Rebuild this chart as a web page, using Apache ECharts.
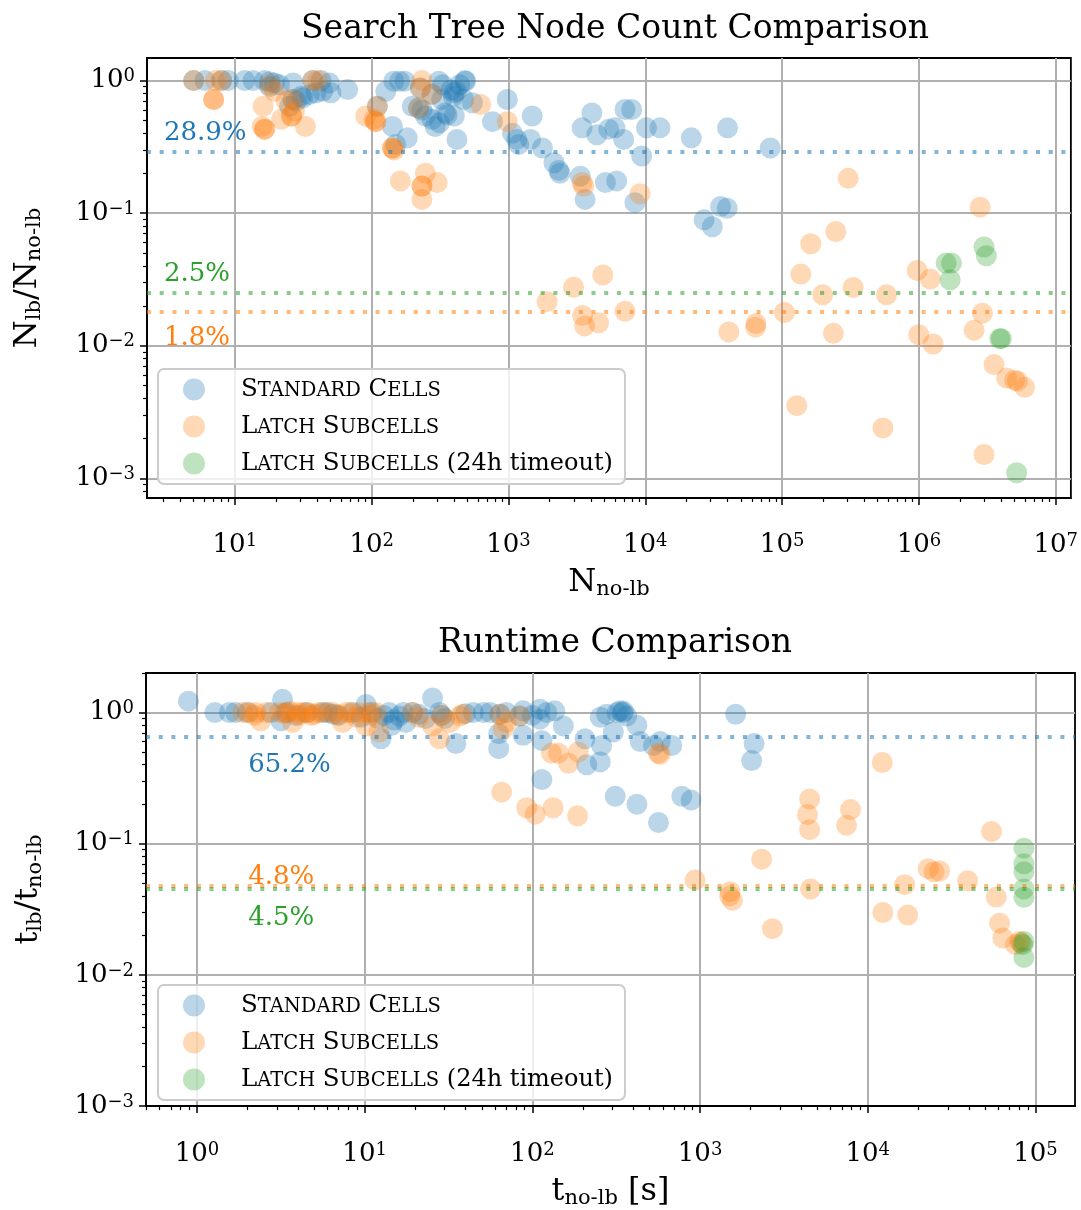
<!DOCTYPE html>
<html><head><meta charset="utf-8">
<script src="https://cdn.jsdelivr.net/npm/echarts@6/dist/echarts.min.js"></script>
<style>html,body{margin:0;padding:0;background:#fff}#c{width:1081px;height:1210px}</style>
</head><body><div id="c"></div>
<script>
const FONT = 'DejaVu Serif';
const seriesNames = ['Standard Cells', 'Latch Subcells', 'Latch Subcells (24h timeout)'];
const colors = ['#1f77b4', '#ff7f0e', '#2ca02c'];

// ---------- Search tree node count (top) ----------
const nodeStdX = [5,6.05,8,8.95,11.8,13.6,16.5,18,19.5,21.2,18,25.1,28.1,31.4,35.1,39.2,43.9,50.4,26.6,30.5,37.1,42.7,49,66.7,26.6,
  127,142,150,182,145,160,175,110,220,227,276,309,330,380,416,402,480,487,247,291,356,420,313,402,198,233,276,345,325,470,440,395,
  545,764,980,1070,1190,1150,1450,1490,1770,2150,2330,2380,3350,3630,5110,6180,8400,3450,4070,4420,5400,6000,6950,7100,7950,9400,
  10200,12800,21700,39900,82000,26900,30900,35500,39700];
const nodeStdY = [1,1,1,1,1,1,1,0.98,0.96,0.93,0.9,0.64,0.70,0.74,0.785,0.81,0.83,0.81,0.96,0.76,1,1,0.96,0.855,0.72,
  0.83,0.45,0.33,0.37,0.99,0.99,0.99,0.64,0.62,0.88,0.79,0.99,0.93,0.85,0.83,0.81,1,0.99,0.54,0.45,0.55,0.36,0.48,0.54,0.64,0.6,0.51,0.57,0.72,0.72,0.93,0.76,
  0.68,0.49,0.72,0.40,0.33,0.36,0.36,0.54,0.31,0.24,0.21,0.20,0.19,0.127,0.17,0.175,0.12,0.44,0.57,0.39,0.43,0.44,0.36,0.605,0.605,0.27,
  0.44,0.44,0.37,0.44,0.31,0.089,0.079,0.112,0.109];

const nodeLatchX = [5,7.2,8,7.0,7.0,18,19.5,16.1,16.5,16.5,15.8,21.9,23.7,26.6,26,26,27.3,32.8,37.1,40.5,
  90.5,110,107,107,104,142,142,146,233,227,276,220,233,233,247,162,301,233,627,980,3550,3450,9150,
  1915,2990,4890,3480,3600,4550,7110,40800,64400,64000,104000,137000,162000,247000,304000,198000,330000,580000,237000,
  970000,1210000,998000,1270000,2800000,2910000,2530000,3540000,4380000,5000000,5250000,5920000,128000,546000,2990000];
const nodeLatchY = [1,1,1,0.72,0.72,0.93,0.83,0.64,0.43,0.43,0.45,0.51,0.70,0.72,0.54,0.54,0.59,0.45,1,1,
  0.54,0.64,0.49,0.49,0.51,0.31,0.31,0.30,1,0.88,0.79,0.62,0.16,0.16,0.20,0.175,0.17,0.127,0.66,0.49,0.16,0.17,0.14,
  0.0215,0.0276,0.0342,0.0169,0.0141,0.0149,0.0182,0.0127,0.0147,0.0138,0.0178,0.0347,0.0588,0.0727,0.183,0.0242,0.0275,0.0242,0.0124,
  0.037,0.0318,0.0121,0.0103,0.111,0.0176,0.0131,0.0072,0.0057,0.0055,0.0054,0.00485,0.00353,0.0024,0.00151];

const nodeTimeoutX = [1580000,1730000,1690000,2990000,3110000,3900000,4000000,5180000];
const nodeTimeoutY = [0.042,0.042,0.0314,0.0555,0.0477,0.0113,0.0113,0.0011];

const nodeRefY = [0.289, 0.018, 0.025];
const nodeRefText = ['28.9%', '1.8%', '2.5%'];
const nodeRefTextX = [3.03, 3.03, 3.03];
const nodeRefTextSide = ['top', 'bottom', 'top'];

// ---------- Runtime (bottom) ----------
const timeStdX = [0.89,1.28,1.56,1.7,2.0,2.76,3.24,3.17,3.4,3.9,4.5,5.6,6.5,8.5,10.2,11,12.5,12,16.1,17.6,19.3,25.4,27.9,28.8,35,30,
  44.5,51,56,64,63,63,84,88,88,111,122,136,111,153,114,114,211,206,254,259,254,277,333,345,365,304,420,440,578,678,527,
  312,420,565,778,884,1630,2100,2030,320,350,40,70,100,6,7,9.5,14,21,23,17,13,15,14.5];
const timeStdY = [1.22,1,1,1,1,1,1.26,0.865,1,0.95,1,1,0.97,1,1.15,1,0.63,0.9,0.94,0.84,1,1.29,1,0.95,0.58,0.9,
  1,1,1,0.97,0.69,0.53,0.94,1.03,0.67,1.06,1,1.03,0.89,0.79,0.61,0.308,0.40,0.63,0.42,0.56,0.92,0.97,1.03,1,0.94,0.71,0.8,0.6,0.6,0.56,0.56,
  0.23,0.2,0.145,0.23,0.215,0.97,0.58,0.43,1,1.02,0.98,1,0.95,1,0.95,0.92,1,0.97,0.9,1,0.95,0.88,0.8];

const timeLatchX = [1.87,2.05,2.25,2.4,2.2,2.6,3.1,3.3,3.5,3.6,3.72,4.0,4.1,4.3,4.6,4.8,5.0,5.3,5.8,6.45,6.9,7.4,7.75,8.2,8.9,9.3,10.2,10.5,11,11.7,12.2,
  19.3,21,25.4,27.9,28.8,32.3,37,38.4,64,67,70,84,65.6,130,143,164,188,92.5,104,133,186,564,578,
  12200,4500,4370,4500,7890,7470,54700,2330,933,1510,1560,1500,2700,4560,16600,22900,26800,24800,39400,12300,17300,
  58300,61100,63900,80400,75900,82000];
const timeLatchY = [1,1,1,0.865,0.95,1,1,0.98,1,1.02,0.84,1,0.95,1,1,0.95,0.97,1,1,1,0.96,0.84,1,1,0.92,1,0.79,1,0.95,1,0.71,
  1,0.92,0.79,0.63,0.95,0.84,0.94,0.97,0.97,0.75,0.84,0.94,0.247,0.49,0.49,0.41,0.50,0.188,0.168,0.188,0.163,0.49,0.48,
  0.416,0.219,0.167,0.128,0.182,0.138,0.124,0.0762,0.0528,0.0431,0.037,0.040,0.0225,0.0452,0.0487,0.0645,0.0619,0.061,0.0521,0.0299,0.0286,
  0.0392,0.0248,0.0191,0.018,0.017,0.0175];

const timeTimeoutX = [85300,85300,85300,85300,85300,85300,84000,85300];
const timeTimeoutY = [0.0925,0.0703,0.061,0.0452,0.039,0.018,0.017,0.0136];

const timeRefY = [0.652, 0.048, 0.045];
const timeRefText = ['65.2%', '4.8%', '4.5%'];
const timeRefTextX = [2.02, 2.02, 2.02];
const timeRefTextSide = ['bottom', 'top', 'bottom'];

// ---------- Axes ----------
const nodeXRange = [2.28, 1.29e7], nodeYRange = [7.1e-4, 1.48];
const timeXRange = [0.497, 1.72e5], timeYRange = [1e-3, 2];
const nodeXTicks = [10, 100, 1e3, 1e4, 1e5, 1e6, 1e7];
const nodeYTicks = [1e-3, 1e-2, 1e-1, 1];
const timeXTicks = [1, 10, 100, 1e3, 1e4, 1e5];
const timeYTicks = [1e-3, 1e-2, 1e-1, 1];

function minorTicks(range) {
  const out = [];
  for (let k = -5; k <= 8; k++) {
    for (let m = 2; m <= 9; m++) {
      const v = m * Math.pow(10, k);
      if (v >= range[0] * 0.9999 && v <= range[1] * 1.0001) out.push(v);
    }
  }
  return out;
}

function powLabel(v) {
  const l = Math.log10(v);
  const e = Math.round(l);
  if (Math.abs(l - e) > 1e-6) return '';
  return '{b|10}{s|' + (e < 0 ? '\u2212' + (-e) : e) + '}';
}
const powRich = {
  b: {fontSize: 26, fontFamily: FONT, lineHeight: 26, verticalAlign: 'bottom', color: '#000'},
  s: {fontSize: 18, fontFamily: FONT, lineHeight: 18, verticalAlign: 'top', padding: [0, 0, 12, 0], color: '#000'}
};
const nameRich = {
  m: {fontSize: 32, fontFamily: FONT, lineHeight: 33, verticalAlign: 'top', color: '#000'},
  u: {fontSize: 21, fontFamily: FONT, lineHeight: 21, verticalAlign: 'bottom', padding: [16, 0, 0, 0], color: '#000'}
};

function mainAxis(gi, range, ticks, isX, name, nameGap, labelMargin, splitNumber) {
  return {
    type: 'log', logBase: 10, gridIndex: gi, min: range[0], max: range[1], splitNumber,
    position: isX ? 'bottom' : 'left',
    axisLine: {show: true, onZero: false, lineStyle: {color: '#000', width: 1.8}},
    axisTick: {show: true, inside: false, length: 7, lineStyle: {color: '#000', width: 1.5}, customValues: ticks},
    axisLabel: {show: true, customValues: ticks, formatter: powLabel, margin: labelMargin, rich: powRich, hideOverlap: false},
    splitLine: {show: true, lineStyle: {color: '#b0b0b0', width: 2}},
    minorTick: {show: false},
    name, nameLocation: 'middle', nameGap,
    nameTextStyle: {rich: nameRich, fontFamily: FONT, color: '#000'}
  };
}
function minorAxis(gi, range, isX) {
  return {
    type: 'log', logBase: 10, gridIndex: gi, min: range[0], max: range[1],
    position: isX ? 'bottom' : 'left',
    axisLine: {show: false, onZero: false},
    axisTick: {show: true, inside: false, length: 4, lineStyle: {color: '#000', width: 1.2}, customValues: minorTicks(range)},
    axisLabel: {show: false},
    splitLine: {show: false}
  };
}

function smallCaps(name) {
  return name.split(' ').map(w => /^[A-Z]/.test(w)
    ? '{c|' + w[0] + '}{s|' + w.slice(1).toUpperCase() + '}'
    : '{n|' + w + '}').join('{n| }');
}
function legendAt(top) {
  return {
    left: 158, top, orient: 'vertical', padding: [8, 12, 8, 25], itemGap: 12,
    itemWidth: 44, itemHeight: 22, icon: 'circle', selectedMode: false,
    backgroundColor: 'rgba(255,255,255,0.8)', borderColor: '#cccccc', borderWidth: 2, borderRadius: 6,
    data: seriesNames.map((n, i) => ({name: n, itemStyle: {color: colors[i], opacity: 0.3}})),
    formatter: n => '{sp|}' + smallCaps(n),
    textStyle: {color: '#000', fontFamily: FONT, rich: {
      sp: {width: 20},
      c: {fontSize: 24.5, lineHeight: 26, fontFamily: FONT},
      s: {fontSize: 19.5, lineHeight: 26, padding: [3, 0, 0, 0], fontFamily: FONT},
      n: {fontSize: 24, lineHeight: 26, fontFamily: FONT}
    }}
  };
}

function scatter(i, xs, ys, xi, yi, refY) {
  return {
    type: 'scatter', name: seriesNames[i], xAxisIndex: xi, yAxisIndex: yi,
    symbol: 'circle', symbolSize: 21,
    data: xs.map((x, k) => [x, ys[k]]),
    itemStyle: {color: colors[i], opacity: 0.3, borderWidth: 0},
    emphasis: {disabled: true},
    markLine: {
      silent: true, symbol: ['none', 'none'], label: {show: false}, animation: false, precision: 6,
      data: [{yAxis: refY}],
      lineStyle: {color: colors[i], opacity: 0.55, width: 4, type: [4, 8.7], cap: 'butt'}
    }
  };
}
function labels(xi, yi, xs, ys, texts, sides, dists) {
  return {
    type: 'scatter', xAxisIndex: xi, yAxisIndex: yi, symbolSize: 0, silent: true, z: 5,
    itemStyle: {opacity: 1},
    data: texts.map((t, k) => ({
      value: [xs[k], ys[k]], name: t,
      label: {show: true, position: sides[k], color: colors[k], distance: dists[k], opacity: 1}
    })),
    label: {show: true, formatter: p => p.name, fontFamily: FONT, fontSize: 26, align: 'left'}
  };
}

const chart = echarts.init(document.getElementById('c'), null, {renderer: 'canvas'});
chart.setOption({
  animation: false,
  backgroundColor: '#ffffff',
  textStyle: {fontFamily: FONT},
  title: [
    {text: 'Search Tree Node Count Comparison', left: 610, top: 8, textAlign: 'center',
      textStyle: {fontFamily: FONT, fontSize: 33, fontWeight: 'normal', color: '#000'}},
    {text: 'Runtime Comparison', left: 610, top: 622, textAlign: 'center',
      textStyle: {fontFamily: FONT, fontSize: 33, fontWeight: 'normal', color: '#000'}}
  ],
  grid: [
    {left: 146, top: 58, width: 929, height: 440, show: true, borderColor: '#000', borderWidth: 1.8, backgroundColor: 'transparent'},
    {left: 146, top: 673, width: 929, height: 440, show: true, borderColor: '#000', borderWidth: 1.8, backgroundColor: 'transparent'}
  ],
  xAxis: [
    mainAxis(0, nodeXRange, nodeXTicks, true, '{m|N}{u|no-lb}', 64, 34, 7),
    minorAxis(0, nodeXRange, true),
    mainAxis(1, timeXRange, timeXTicks, true, '{m|t}{u|no-lb}{m| [s]}', 64, 35, 6),
    minorAxis(1, timeXRange, true)
  ],
  yAxis: [
    mainAxis(0, nodeYRange, nodeYTicks, false, '{m|N}{u|lb}{m|/N}{u|no-lb}', 102, 12, 4),
    minorAxis(0, nodeYRange, false),
    mainAxis(1, timeYRange, timeYTicks, false, '{m|t}{u|lb}{m|/t}{u|no-lb}', 100, 12, 4),
    minorAxis(1, timeYRange, false)
  ],
  legend: [legendAt(369), legendAt(985)],
  series: [
    scatter(0, nodeStdX, nodeStdY, 0, 0, nodeRefY[0]),
    scatter(1, nodeLatchX, nodeLatchY, 0, 0, nodeRefY[1]),
    scatter(2, nodeTimeoutX, nodeTimeoutY, 0, 0, nodeRefY[2]),
    labels(0, 0, nodeRefTextX, nodeRefY, nodeRefText, nodeRefTextSide, [6, 13, 6]),
    scatter(0, timeStdX, timeStdY, 2, 2, timeRefY[0]),
    scatter(1, timeLatchX, timeLatchY, 2, 2, timeRefY[1]),
    scatter(2, timeTimeoutX, timeTimeoutY, 2, 2, timeRefY[2]),
    labels(2, 2, timeRefTextX, timeRefY, timeRefText, timeRefTextSide, [15, -5, 16])
  ]
});
</script>
</body></html>
